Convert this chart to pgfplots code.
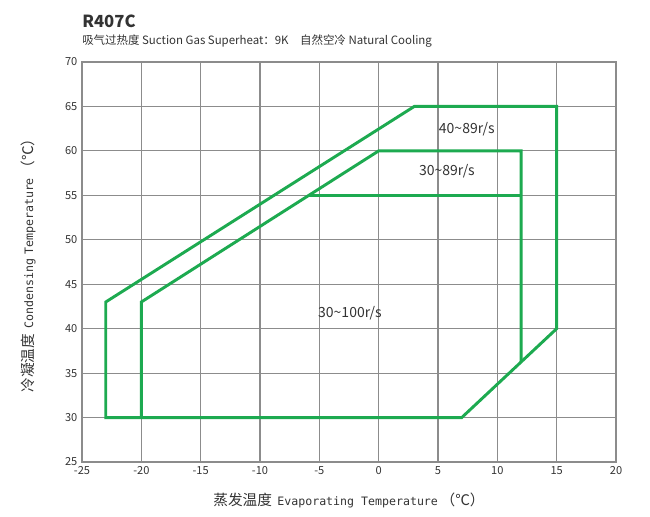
\documentclass[border=0pt]{standalone}
\usepackage{fontspec}
\usepackage{pgfplots}
\pgfplotsset{compat=1.18}
\setmainfont{Noto Sans CJK SC}
\newfontfamily\monofont{DejaVu Sans Mono}
\definecolor{envgreen}{HTML}{1DAA50}
\definecolor{gridgray}{HTML}{8C8C8C}
\definecolor{txt}{HTML}{333333}

\begin{document}
\begin{tikzpicture}
\begin{axis}[
  scale only axis,
  width=400.5pt, height=300pt,
  xmin=-25, xmax=20, ymin=25, ymax=70,
  xtick={-25,-20,...,20}, ytick={25,30,...,70},
  grid=major,
  major grid style={gridgray, line width=0.9pt},
  axis line style={gridgray, line width=1.5pt},
  major tick length=0pt,
  tick label style={font=\fontsize{8.3}{9}\selectfont, text=txt},
  /pgf/number format/assume math mode=true,
  clip=false,
  xlabel={\fontsize{11}{12}\selectfont 蒸发温度\hspace{4pt}{\monofont\fontsize{8.7}{10}\selectfont Evaporating Temperature}\hspace{2pt}（℃）},
  ylabel={\fontsize{11}{12}\selectfont 冷凝温度\hspace{4pt}{\monofont\fontsize{8.7}{10}\selectfont Condensing\hspace{3pt}Temperature}\hspace{2pt}（℃）},
  xlabel style={at={(axis description cs:0.5,-0.095)}, anchor=center, text=txt},
  ylabel style={at={(axis description cs:-0.101,0.5)}, anchor=center, text=txt},
]
% 40~89 r/s envelope
\addplot[envgreen, line width=2.2pt, line join=miter] coordinates {
  (-23,30) (-23,43) (3,65) (15,65) (15,40) (7,30)
} -- cycle;
% 30~89 r/s envelope
\addplot[envgreen, line width=2.2pt, line join=miter] coordinates {
  (-20,30) (-20,43) (0,60) (12,60) (12,36.25)
};
% 30~100 r/s upper limit
\addplot[envgreen, line width=2.2pt] coordinates {
  (-5.88,55) (12,55)
};
\node[text=txt, font=\fontsize{10.5}{12}\selectfont] at (axis cs:7.43,62.46) {40\textasciitilde89r/s};
\node[text=txt, font=\fontsize{10.5}{12}\selectfont] at (axis cs:5.75,57.74) {30\textasciitilde89r/s};
\node[text=txt, font=\fontsize{10.5}{12}\selectfont] at (axis cs:-2.42,41.77) {30\textasciitilde100r/s};
% title
\node[anchor=base west, inner sep=0pt, font=\bfseries\fontsize{12.5}{14}\selectfont, text=txt]
  at (rel axis cs:0,1.085) {R407C};
\node[anchor=base west, inner sep=0pt, font=\fontsize{8.6}{10}\selectfont, text=txt]
  at (rel axis cs:0,1.045) {吸气过热度 Suction Gas Superheat：9K\quad 自然空冷 Natural Cooling};
\end{axis}
\path (-61.5pt,-41.25pt) rectangle (426pt,346.5pt);
\end{tikzpicture}
\end{document}
